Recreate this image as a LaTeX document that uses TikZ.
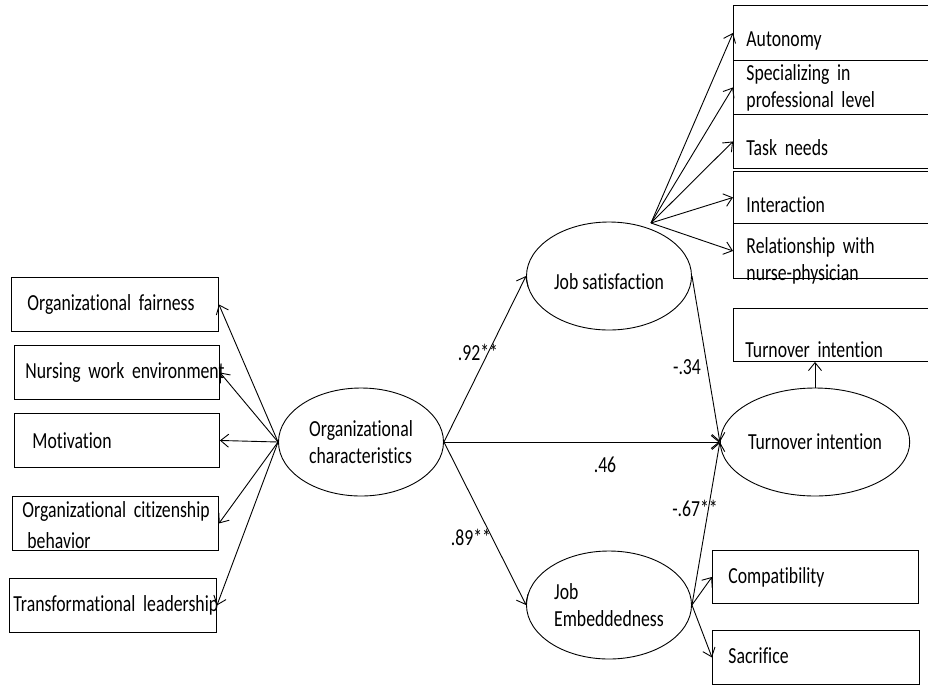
\documentclass[tikz,border=0pt]{standalone}
\usepackage{fontspec}
\setmainfont{Carlito}[FakeStretch=0.77,Ligatures={NoCommon,NoContextual},Contextuals=NoAlternate]
\usetikzlibrary{shapes.geometric,arrows.meta,positioning}

\begin{document}
\begin{tikzpicture}[
    x=1pt, y=-1pt,
    >={Straight Barb[length=8pt,width=13pt]},
    font=\fontsize{23}{27}\selectfont,
    line width=0.9pt,
    factor/.style={
        draw,
        ellipse,
        minimum width=165pt,
        minimum height=108pt,
        inner sep=0pt,
        align=left
    },
    lbox/.style={
        draw,
        anchor=north west,
        minimum height=54pt,
        inner ysep=0pt,
        align=left,
        execute at begin node={\hyphenpenalty=10000\hbadness=10000\hfuzz=50pt}
    },
    rbox/.style={
        draw,
        anchor=north west,
        text width=173pt,
        inner xsep=13pt,
        inner ysep=0pt,
        align=left
    },
    link/.style={->},
    coef/.style={inner sep=0pt}
]
\clip (0,0) rectangle (928,686);

% latent factors
\node[factor] (org) at (361,442) {Organizational\\characteristics};
\node[factor, text height=30pt, text depth=4pt] (js) at (609,276) {Job satisfaction};
\node[factor] (emb) at (609,605) {Job\\Embeddedness};
\node[factor] (ti) at (815,442) {Turnover intention};

% left indicators
\node[lbox, inner xsep=16pt, text width=175pt] (fair) at (11,277) {Organizational fairness};
\node[lbox, inner xsep=11pt, text width=183pt] (nurse) at (14,345) {\mbox{Nursing work environment}};
\node[lbox, inner xsep=18pt, text width=169pt] (motiv) at (14,413) {Motivation};
\node[lbox, inner xsep=10pt, text width=186pt, text height=21pt, text depth=33pt] (ocb) at (12,496) {\mbox{Organizational citizenship}\\[4pt]\hspace*{5pt}behavior};
\node[lbox, inner xsep=4pt, text width=199pt] (lead) at (9,578) {\mbox{Transformational leadership}};

\draw[link] (org.west) -- (fair.east);
\draw[link] (org.west) -- (nurse.east);
\draw[link] (org.west) -- (motiv.east);
\draw[link] (org.west) -- (ocb.east);
\draw[link] (org.west) -- (lead.east);

% job satisfaction indicators
\node[rbox, text height=41pt, text depth=14pt] (auto) at (733,5) {Autonomy};
\node[rbox, text height=20pt, text depth=34pt] (spec) at (733,60) {Specializing in\\professional level};
\node[rbox, text height=41pt, text depth=13pt] (task) at (733,114) {Task needs};
\node[rbox, text height=41pt, text depth=11pt] (inter) at (733,171) {Interaction};
\node[rbox, text height=30pt, text depth=25pt] (rel) at (733,223) {Relationship with\\nurse-physician};

\coordinate (jsfan) at (651,223);
\draw[link] (jsfan) -- (auto.west);
\draw[link] (jsfan) -- (spec.west);
\draw[link] (jsfan) -- (task.west);
\draw[link] (jsfan) -- (inter.west);
\draw[link] (jsfan) -- (rel.west);

% turnover indicator
\node[rbox, inner xsep=12pt, text width=175pt, text height=49pt, text depth=4pt] (tibox) at (733,308) {Turnover intention};
\draw[link] (ti.north) -- (ti.north |- tibox.south);

% embeddedness indicators
\node[rbox, inner xsep=16pt, text width=174pt, text height=33pt, text depth=20pt] (comp) at (712,550) {Compatibility};
\node[rbox, inner xsep=16pt, text width=175pt, text height=33pt, text depth=21pt] (sac) at (712,630) {Sacrifice};

\draw[link] (emb.east) -- (comp.west);
\draw[link] (emb.east) -- (sac.west);

% structural paths
\draw[link] (org.east) -- (js.west);
\draw[link] (org.east) -- (emb.west);
\draw[link] (org.east) -- (ti.west);
\draw[link] (js.east) -- (ti.west);
\draw[link] (emb.east) -- (ti.west);

\node[coef] (c92) at (478,352) {.92**};
\node[coef] (c34) at (687,367) {-.34};
\node[coef] (c46) at (605,465) {.46};
\node[coef] (c67) at (695,508) {-.67**};
\node[coef] (c89) at (471,537) {.89**};

\end{tikzpicture}
\end{document}
